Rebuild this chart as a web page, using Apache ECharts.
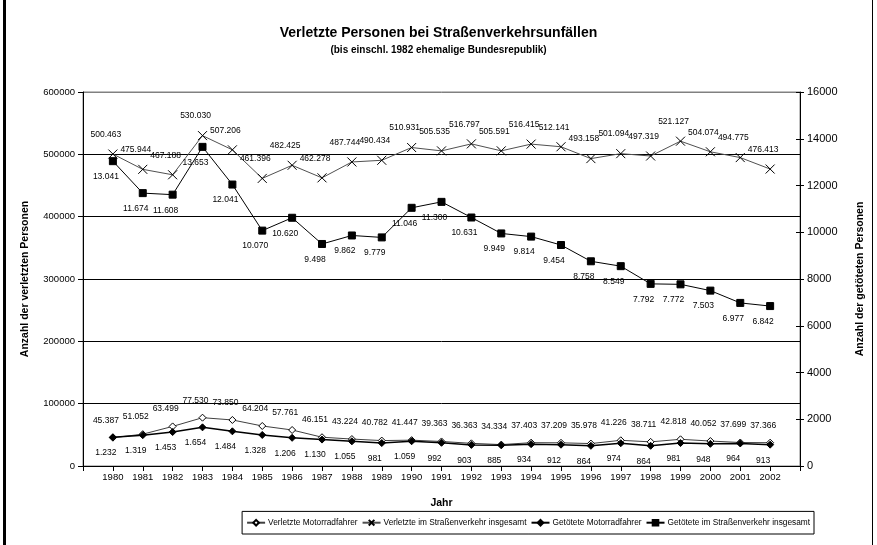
<!DOCTYPE html>
<html>
<head>
<meta charset="utf-8">
<script src="https://cdn.jsdelivr.net/npm/echarts@6/dist/echarts.min.js"></script>
<style>html,body{margin:0;padding:0;background:#fff;}#c{width:877px;height:545px;}</style>
</head>
<body>
<div id="c"></div>
<script>
const years = [1980,1981,1982,1983,1984,1985,1986,1987,1988,1989,1990,1991,1992,1993,1994,1995,1996,1997,1998,1999,2000,2001,2002];
const verletzteMotorrad = [45387,51052,63499,77530,73850,64204,57761,46151,43224,40782,41447,39363,36363,34334,37403,37209,35978,41226,38711,42818,40052,37699,37366];
const verletzteGesamt = [500463,475944,467188,530030,507206,461396,482425,462278,487744,490434,510931,505535,516797,505591,516415,512141,493158,501094,497319,521127,504074,494775,476413];
const getoeteteMotorrad = [1232,1319,1453,1654,1484,1328,1206,1130,1055,981,1059,992,903,885,934,912,864,974,864,981,948,964,913];
const getoeteteGesamt = [13041,11674,11608,13653,12041,10070,10620,9498,9862,9779,11046,11300,10631,9949,9814,9454,8758,8549,7792,7772,7503,6977,6842];
const leftTicks = [0,100000,200000,300000,400000,500000,600000];
const rightTicks = [0,2000,4000,6000,8000,10000,12000,14000,16000];

const FONT = 'Liberation Sans, Arial, sans-serif';
const pairs = arr => years.map((y,i) => [y, arr[i]]);
const de = v => String(v).replace(/\B(?=(\d{3})+(?!\d))/g, '.');
const lbl = (pos, dist) => ({
  show: true, position: pos, distance: dist, offset: [-7, 0],
  fontSize: 8.5, fontFamily: FONT, color: '#000',
  formatter: p => de(p.value[1])
});
const rightRange = {type: 'value', min: rightTicks[0], max: rightTicks[rightTicks.length-1], interval: rightTicks[1]-rightTicks[0], position: 'right'};

const chart = echarts.init(document.getElementById('c'), null, {renderer: 'canvas'});
chart.setOption({
  animation: false,
  backgroundColor: '#fff',
  title: [
    {text: 'Verletzte Personen bei Straßenverkehrsunfällen', left: 'center', top: 21,
     textStyle: {fontFamily: FONT, fontSize: 14, fontWeight: 'bold', color: '#000'}},
    {text: '(bis einschl. 1982 ehemalige Bundesrepublik)', left: 'center', top: 40,
     textStyle: {fontFamily: FONT, fontSize: 10, fontWeight: 'bold', color: '#000'}}
  ],
  grid: {left: 83, right: 77, top: 92, bottom: 79, show: true, borderColor: '#808080', borderWidth: 1, backgroundColor: '#fff'},
  legend: {
    bottom: 11, right: 63,
    backgroundColor: '#fff', borderColor: '#000', borderWidth: 1, padding: [6, 4],
    itemWidth: 18, itemHeight: 7, itemGap: 4,
    textStyle: {fontFamily: FONT, fontSize: 8.3, color: '#000', padding: [0, 0, 0, -2]},
    data: ['Verletzte Motorradfahrer','Verletzte im Straßenverkehr insgesamt','Getötete Motorradfahrer','Getötete im Straßenverkehr insgesamt']
  },
  xAxis: {
    type: 'value', min: 1979, max: 2003, interval: 1,
    name: 'Jahr', nameLocation: 'middle', nameGap: 32,
    nameTextStyle: {fontFamily: FONT, fontSize: 10.5, fontWeight: 'bold', color: '#000'},
    axisLine: {lineStyle: {color: '#000', width: 1}},
    axisTick: {show: true, length: 5, lineStyle: {color: '#000'}},
    axisLabel: {fontFamily: FONT, fontSize: 9.5, color: '#000', margin: 6,
      formatter: v => years.indexOf(v) >= 0 ? String(v) : ''},
    splitLine: {show: false}
  },
  yAxis: [
    {type: 'value', min: leftTicks[0], max: leftTicks[leftTicks.length-1], interval: leftTicks[1]-leftTicks[0],
     name: 'Anzahl der verletzten Personen', nameLocation: 'middle', nameGap: 52, nameRotate: 90,
     nameTextStyle: {fontFamily: FONT, fontSize: 10.5, fontWeight: 'bold', color: '#000'},
     axisLine: {show: true, lineStyle: {color: '#000'}},
     axisTick: {show: true, length: 5, lineStyle: {color: '#000'}},
     axisLabel: {fontFamily: FONT, fontSize: 9.5, color: '#000', margin: 8, formatter: v => String(v)},
     splitLine: {show: true, lineStyle: {color: ['#000','#000','#000','#000','#000','#000','#808080'], width: 1}}
    },
    Object.assign({}, rightRange, {
     name: 'Anzahl der getöteten Personen', nameLocation: 'middle', nameGap: 55, nameRotate: 90,
     nameTextStyle: {fontFamily: FONT, fontSize: 10.5, fontWeight: 'bold', color: '#000'},
     axisLine: {show: true, lineStyle: {color: '#000'}},
     axisTick: {show: true, length: 4, lineStyle: {color: '#000'}},
     axisLabel: {fontFamily: FONT, fontSize: 11, color: '#000', margin: 7, formatter: v => String(v)},
     splitLine: {show: false}
    }),
    Object.assign({}, rightRange, {
     axisLine: {show: false},
     axisTick: {show: true, inside: true, length: 4, lineStyle: {color: '#000'}},
     axisLabel: {show: false},
     splitLine: {show: false}
    })
  ],
  series: [
    {name: 'Verletzte Motorradfahrer', type: 'line', yAxisIndex: 0, data: pairs(verletzteMotorrad),
     symbol: 'diamond', symbolSize: 7, showAllSymbol: true,
     itemStyle: {color: '#fff', borderColor: '#000', borderWidth: 1},
     lineStyle: {color: '#404040', width: 1},
     label: lbl('top', 9), z: 3},
    {name: 'Verletzte im Straßenverkehr insgesamt', type: 'line', yAxisIndex: 0, data: pairs(verletzteGesamt),
     symbol: 'path://M0,0L10,10M10,0L0,10', symbolSize: 9, showAllSymbol: true,
     itemStyle: {color: 'none', borderColor: '#000', borderWidth: 1},
     lineStyle: {color: '#505050', width: 1},
     label: lbl('top', 8), z: 3},
    {name: 'Getötete Motorradfahrer', type: 'line', yAxisIndex: 1, data: pairs(getoeteteMotorrad),
     symbol: 'diamond', symbolSize: 7, showAllSymbol: true,
     itemStyle: {color: '#000', borderColor: '#000', borderWidth: 1},
     lineStyle: {color: '#000', width: 1.5},
     label: lbl('bottom', 7), z: 4},
    {name: 'Getötete im Straßenverkehr insgesamt', type: 'line', yAxisIndex: 1, data: pairs(getoeteteGesamt),
     symbol: 'rect', symbolSize: 7, showAllSymbol: true,
     itemStyle: {color: '#000', borderColor: '#000', borderWidth: 1},
     lineStyle: {color: '#000', width: 1},
     label: lbl('bottom', 7), z: 4}
  ],
  graphic: [
    {type: 'rect', shape: {x: 3, y: 0, width: 3, height: 545}, style: {fill: '#000'}, silent: true},
    {type: 'rect', shape: {x: 872, y: 0, width: 1, height: 545}, style: {fill: '#000'}, silent: true}
  ]
});
</script>
</body>
</html>
